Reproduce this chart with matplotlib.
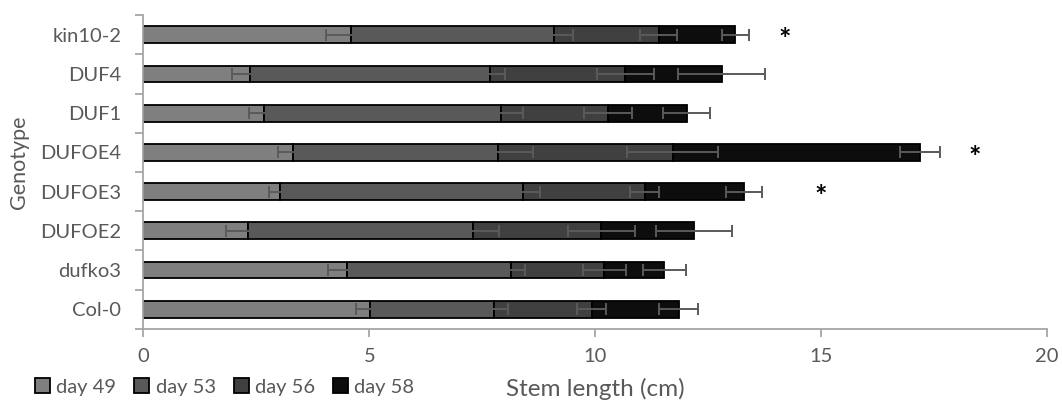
import matplotlib.pyplot as plt
import numpy as np

plt.rcParams['font.family'] = ['Lato', 'DejaVu Sans']

genotypes = ["Col-0", "dufko3", "DUFOE2", "DUFOE3", "DUFOE4", "DUF1", "DUF4", "kin10-2"]
days = ["day 49", "day 53", "day 56", "day 58"]

# stem growth added in each interval (cm), ordered like genotypes
day49 = [5.01, 4.51, 2.31, 3.02, 3.31, 2.67, 2.35, 4.60]
day53 = [2.76, 3.62, 4.99, 5.39, 4.54, 5.24, 5.33, 4.49]
day56 = [2.15, 2.07, 2.83, 2.68, 3.86, 2.38, 2.98, 2.32]
day58 = [1.93, 1.33, 2.05, 2.21, 5.48, 1.73, 2.14, 1.69]

# standard error of the cumulative length at each day
err49 = [0.30, 0.43, 0.48, 0.25, 0.34, 0.34, 0.38, 0.55]
err53 = [0.31, 0.32, 0.58, 0.37, 0.78, 0.50, 0.33, 0.42]
err56 = [0.32, 0.47, 0.74, 0.31, 1.00, 0.53, 0.63, 0.41]
err58 = [0.43, 0.48, 0.84, 0.40, 0.45, 0.52, 0.96, 0.30]

# significance marks: genotype -> x position of the asterisk (cm)
significant = {"kin10-2": 14.2, "DUFOE4": 18.4, "DUFOE3": 15.0}

colors = ["#7f7f7f", "#595959", "#404040", "#0d0d0d"]
grey = "#a6a6a6"
text_grey = "#595959"

fig = plt.figure(figsize=(10.62, 4.09), dpi=100)
ax = fig.add_axes([0.135, 0.196, 0.851, 0.767])

y = np.arange(len(genotypes))
left = np.zeros(len(genotypes))
ends = []
for vals, errs, col, lab in zip([day49, day53, day56, day58],
                                [err49, err53, err56, err58], colors, days):
    ax.barh(y, vals, left=left, height=0.43, color=col, edgecolor="black",
            linewidth=1.3, label=lab, zorder=2)
    left = left + np.array(vals)
    ends.append((left.copy(), errs))

# error bars go on top of every segment
for pos, errs in ends:
    ax.errorbar(pos, y, xerr=errs, fmt="none", ecolor="#5a5a5a",
                elinewidth=1.4, capsize=4, capthick=1.4, zorder=3)

for g, xs in significant.items():
    i = genotypes.index(g)
    ax.text(xs, y[i] - 0.14, "*", fontsize=21, fontweight="bold",
            ha="center", va="center", color="black")

ax.set_xlim(0, 20)
ax.set_ylim(-0.5, len(genotypes) - 0.5)
ax.set_xticks([0, 5, 10, 15, 20])
ax.set_yticks(y)
ax.set_yticklabels(genotypes)
ax.set_yticks(np.arange(-0.5, len(genotypes)), minor=True)

for side in ["top", "right"]:
    ax.spines[side].set_visible(False)
for side in ["left", "bottom"]:
    ax.spines[side].set_color(grey)
    ax.spines[side].set_linewidth(1.3)

ax.tick_params(axis="y", which="major", length=0, pad=16, labelsize=14.5,
               labelcolor=text_grey)
ax.tick_params(axis="y", which="minor", length=6, width=1.3, color=grey)
ax.tick_params(axis="x", which="major", length=6, width=1.3, color=grey,
               pad=8, labelsize=14.5, labelcolor=text_grey)

ax.set_xlabel("Stem length (cm)", fontsize=17.5, color=text_grey, labelpad=9)
ax.set_ylabel("Genotype", fontsize=15.5, color=text_grey)
ax.yaxis.set_label_coords(-0.127, 0.53)

handles, labels = ax.get_legend_handles_labels()
leg = fig.legend(handles, labels, loc="lower left", bbox_to_anchor=(0.016, -0.012),
                 ncol=4, frameon=False, fontsize=14.5, handlelength=0.75,
                 handleheight=0.75, handletextpad=0.3, columnspacing=0.9)
for t in leg.get_texts():
    t.set_color(text_grey)

fig.savefig("out.png", dpi=100)
